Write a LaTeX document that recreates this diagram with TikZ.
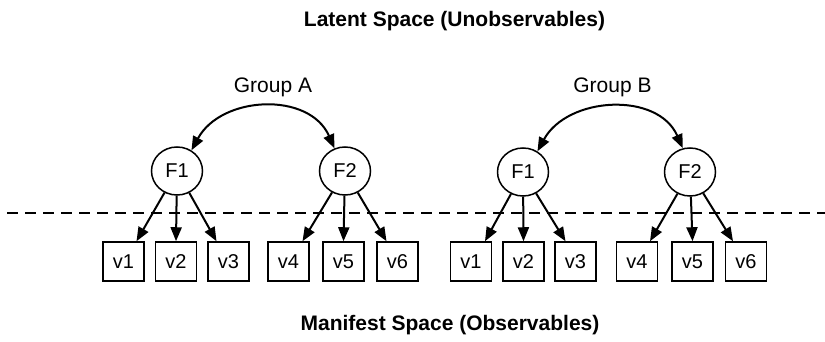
\documentclass[tikz,border=0pt]{standalone}
\usepackage{fontspec}
\setmainfont{Liberation Sans}
\usetikzlibrary{arrows.meta,shapes.geometric}
\begin{document}
\begin{tikzpicture}[x=1pt,y=-1pt,
  factor/.style={ellipse,draw,line width=1.5pt,minimum width=51pt,minimum height=48pt,inner sep=0pt,font=\fontsize{20}{24}\selectfont},
  obs/.style={rectangle,draw,line width=1.5pt,minimum width=41pt,minimum height=39pt,inner sep=0pt,font=\fontsize{20}{24}\selectfont},
  load/.style={line width=2pt,-{Triangle[length=14pt,width=11pt]}},
  corr/.style={line width=2pt,{Triangle[length=14pt,width=11pt]}-{Triangle[length=14pt,width=11pt]}},
  divider/.style={line width=2pt,dash pattern=on 11pt off 7pt},
  grouplabel/.style={anchor=base,font=\fontsize{21}{25}\selectfont,inner sep=0pt},
  spacetitle/.style={anchor=base,font=\fontsize{21}{25}\selectfont\bfseries,inner sep=0pt}]
\useasboundingbox (0,0) rectangle (825,342);

% divider
\coordinate (dl) at (7,213);
\coordinate (dr) at (825,213);
\draw[divider] (dl) -- (dr);

% titles
\node[spacetitle] (latent) at (454.5,27) {Latent Space (Unobservables)};
\node[spacetitle] (manifest) at (450,330) {Manifest Space (Observables)};

% group labels
\node[grouplabel] (gA) at (273,93) {Group A};
\node[grouplabel] (gB) at (612.5,93) {Group B};

% factors
\node[factor] (F1A) at (177,171) {F1};
\node[factor] (F2A) at (345,171) {F2};
\node[factor] (F1B) at (523,172) {F1};
\node[factor] (F2B) at (690,172) {F2};

% observed variables, group A
\node[obs] (v1A) at (123.5,261.5) {v1};
\node[obs] (v2A) at (176,261.5) {v2};
\node[obs] (v3A) at (228.5,261.5) {v3};
\node[obs] (v4A) at (288.5,261.5) {v4};
\node[obs] (v5A) at (343.5,261.5) {v5};
\node[obs] (v6A) at (397.5,261.5) {v6};

% observed variables, group B
\node[obs] (v1B) at (471,261.5) {v1};
\node[obs] (v2B) at (523.5,261.5) {v2};
\node[obs] (v3B) at (575.5,261.5) {v3};
\node[obs] (v4B) at (637,261.5) {v4};
\node[obs] (v5B) at (692.5,261.5) {v5};
\node[obs] (v6B) at (746,261.5) {v6};

% loadings, group A
\draw[load] (F1A) -- ([xshift=13pt]v1A.north);
\draw[load] (F1A) -- (v2A.north);
\draw[load] (F1A) -- ([xshift=-12pt]v3A.north);
\draw[load] (F2A) -- ([xshift=14pt]v4A.north);
\draw[load] (F2A) -- (v5A.north);
\draw[load] (F2A) -- ([xshift=-11pt]v6A.north);

% loadings, group B
\draw[load] (F1B) -- ([xshift=14pt]v1B.north);
\draw[load] (F1B) -- (v2B.north);
\draw[load] (F1B) -- ([xshift=-10pt]v3B.north);
\draw[load] (F2B) -- ([xshift=13pt]v4B.north);
\draw[load] (F2B) -- (v5B.north);
\draw[load] (F2B) -- ([xshift=-13pt]v6B.north);

% factor correlations
\draw[corr] (F1A.55) .. controls +(30,-55) and +(-25,-57) .. (F2A.115);
\draw[corr] (F1B.55) .. controls +(30,-55) and +(-25,-57) .. (F2B.107);
\end{tikzpicture}
\end{document}
